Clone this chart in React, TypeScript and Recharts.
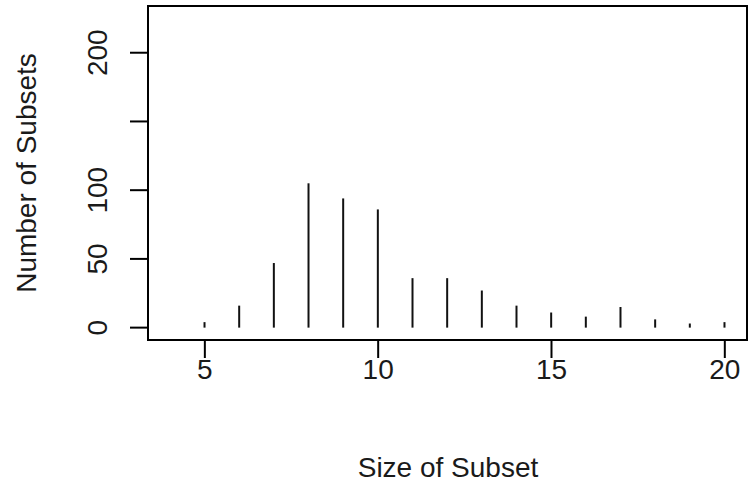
import { ComposedChart, Bar, XAxis, YAxis, ReferenceArea } from 'recharts';

const sizes = [5, 6, 7, 8, 9, 10, 11, 12, 13, 14, 15, 16, 17, 18, 19, 20];
const counts = [4, 16, 47, 105, 94, 86, 36, 36, 27, 16, 11, 8, 15, 6, 3, 4];
const xTicks = [5, 10, 15, 20];
const yTicks = [0, 50, 100, 150, 200];
const yLabelled = [0, 50, 100, 200];

const xDomain: [number, number] = [3.36, 20.64];
const yDomain: [number, number] = [-9, 234];

const data = sizes.map((s, i) => ({ size: s, count: counts[i] }));

const FONT = '"Liberation Sans", Arial, sans-serif';
const FS = 28;
const INK = '#1a1a1a';

function XTick(props: any) {
  const { x, y, payload } = props;
  return (
    <text x={x} y={y + 19} textAnchor="middle" fontFamily={FONT} fontSize={FS} fill={INK}>
      {payload.value}
    </text>
  );
}

function YTick(props: any) {
  const { y, payload } = props;
  if (!yLabelled.includes(payload.value)) return <g />;
  const bx = 107;
  return (
    <text
      x={bx}
      y={y}
      textAnchor="middle"
      transform={`rotate(-90, ${bx}, ${y})`}
      fontFamily={FONT}
      fontSize={FS}
      fill={INK}
    >
      {payload.value}
    </text>
  );
}

export default function App() {
  return (
    <div style={{ position: 'absolute', left: 0, top: 0, width: 750, height: 484, background: '#fff' }}>
      <ComposedChart width={750} height={484} data={data} margin={{ top: 6, right: 3, bottom: 0, left: 0 }}>
        <XAxis
          dataKey="size"
          type="number"
          domain={xDomain}
          ticks={xTicks}
          allowDataOverflow
          height={144}
          axisLine={false}
          tickSize={18}
          tickLine={{ stroke: '#000', strokeWidth: 2 }}
          tick={<XTick />}
        />
        <YAxis
          type="number"
          domain={yDomain}
          ticks={yTicks}
          allowDataOverflow
          width={148}
          axisLine={false}
          tickSize={18}
          tickLine={{ stroke: '#000', strokeWidth: 2 }}
          tick={<YTick />}
        />
        <ReferenceArea
          x1={xDomain[0]}
          x2={xDomain[1]}
          y1={yDomain[0]}
          y2={yDomain[1]}
          fill="none"
          fillOpacity={0}
          stroke="#000"
          strokeWidth={2}
          ifOverflow="visible"
        />
        <Bar dataKey="count" fill="#111" barSize={2} isAnimationActive={false} />
        <text x={448} y={477} textAnchor="middle" fontFamily={FONT} fontSize={FS} fill={INK}>
          Size of Subset
        </text>
        <text
          x={36}
          y={173}
          textAnchor="middle"
          transform="rotate(-90, 36, 173)"
          fontFamily={FONT}
          fontSize={FS}
          fill={INK}
        >
          Number of Subsets
        </text>
      </ComposedChart>
    </div>
  );
}
